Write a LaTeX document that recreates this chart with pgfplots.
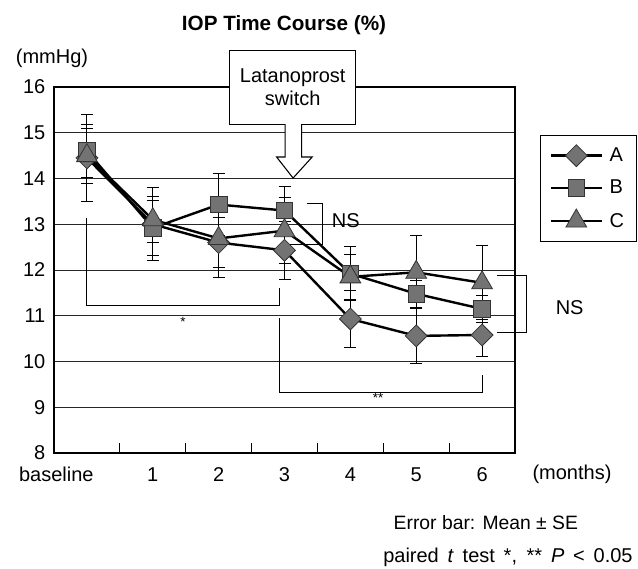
\documentclass[border=0pt]{standalone}
\usepackage{fontspec}
\setmainfont{Liberation Sans}
\usepackage{pgfplots}
\pgfplotsset{compat=1.18}

\newcommand{\fs}{\fontsize{15}{17}\selectfont}

\begin{document}
\begin{tikzpicture}
% canvas: 638 x 568 px, 1px = 0.75pt, y downward in the scope below
\useasboundingbox (0,0) rectangle (478.5pt,-426pt);

\begin{axis}[
    at={(40.5pt,-65.25pt)}, anchor=north west,
    scale only axis,
    width=345.75pt, height=274.5pt,
    xmin=-0.5, xmax=6.5,
    ymin=8, ymax=16,
    xtick={0,1,2,3,4,5,6},
    xticklabels={\hspace{-46pt}baseline,1,2,3,4,5,6},
    xtick pos=bottom,
    major tick length=0pt,
    extra x ticks={0.5,1.5,2.5,3.5,4.5,5.5},
    extra x tick labels={},
    extra x tick style={major tick length=7.5pt, tick style={line width=0.7pt, black}},
    ytick={8,9,...,16},
    ytick pos=left,
    ymajorgrids=true,
    grid style={line width=0.7pt, black!85},
    axis line style={line width=0.8pt},
    tick label style={font=\fs},
    /pgf/number format/assume math mode=true,
    xticklabel style={yshift=-7pt, text height=11pt, text depth=3pt},
    yticklabel style={xshift=-3pt},
    clip=false,
    legend style={at={(1.054,0.869)}, anchor=north west, font=\fs,
        draw=black, line width=0.7pt, row sep=8pt, inner sep=7pt,
        cells={anchor=west}},
    legend image code/.code={%
        \draw[mark repeat=2,mark phase=2,#1]
        plot coordinates {(0cm,0cm)(0.67cm,0cm)(1.34cm,0cm)};},
    error bars/error bar style={line width=0.7pt, black},
    error bars/error mark options={rotate=90, mark size=4.5pt, line width=0.7pt, black},
]

% A
\addplot[black, line width=1.8pt, mark=square*, mark size=5.8pt,
    mark options={rotate=45, fill=black!55, draw=black!80, line width=0.6pt},
    error bars/.cd, y dir=both, y explicit]
coordinates {
    (0,14.45) +- (0,0.95)
    (1,13.00) +- (0,0.80)
    (2,12.60) +- (0,0.55)
    (3,12.43) +- (0,0.63)
    (4,10.93) +- (0,0.63)
    (5,10.56) +- (0,0.61)
    (6,10.58) +- (0,0.46)
};
\addlegendentry{\hspace{3pt}A}

% B
\addplot[black, line width=1.8pt, mark=square*, mark size=6.2pt,
    mark options={fill=black!55, draw=black!80, line width=0.6pt},
    error bars/.cd, y dir=both, y explicit]
coordinates {
    (0,14.60) +- (0,0.58)
    (1,12.92) +- (0,0.60)
    (2,13.43) +- (0,0.68)
    (3,13.30) +- (0,0.53)
    (4,11.92) +- (0,0.59)
    (5,11.48) +- (0,0.30)
    (6,11.15) +- (0,0.30)
};
\addlegendentry{\hspace{3pt}B}

% C
\addplot[black, line width=1.8pt, mark=triangle*, mark size=9pt,
    mark options={fill=black!55, draw=black!80, line width=0.6pt},
    error bars/.cd, y dir=both, y explicit]
coordinates {
    (0,14.50) +- (0,0.60)
    (1,13.10) +- (0,0.50)
    (2,12.69) +- (0,0.86)
    (3,12.86) +- (0,0.72)
    (4,11.85) +- (0,0.50)
    (5,11.95) +- (0,0.80)
    (6,11.72) +- (0,0.81)
};
\addlegendentry{\hspace{3pt}C}

% significance brackets
\draw[line width=0.7pt] (axis cs:0,13.14) -- (axis cs:0,11.23) -- (axis cs:2.92,11.23) -- (axis cs:2.92,11.61);
\node[font=\fontsize{10}{12}\selectfont] at (axis cs:1.46,10.86) {*};

\draw[line width=0.7pt] (axis cs:3.34,13.46) -- (axis cs:3.57,13.46) -- (axis cs:3.57,12.55) -- (axis cs:3.08,12.55);
\node[font=\fs] at (axis cs:3.93,13.07) {NS};

\draw[line width=0.7pt] (axis cs:2.92,10.95) -- (axis cs:2.92,9.33) -- (axis cs:6.01,9.33) -- (axis cs:6.01,9.70);
\node[font=\fontsize{10}{12}\selectfont] at (axis cs:4.42,9.20) {**};

\draw[line width=0.7pt] (axis cs:6.23,11.89) -- (axis cs:6.68,11.89) -- (axis cs:6.68,10.64) -- (axis cs:6.23,10.64);
\node[font=\fs] at (axis cs:7.33,11.18) {NS};

% switch box and arrow
\draw[line width=0.8pt, fill=white] (axis cs:2.17,16.79) rectangle (axis cs:4.08,15.19);
\node[font=\fs, align=center] at (axis cs:3.125,15.99) {Latanoprost\\switch};
\draw[line width=0.8pt, fill=white]
    (axis cs:3.01,15.19) -- (axis cs:3.01,14.47) -- (axis cs:2.88,14.47) --
    (axis cs:3.13,14.01) -- (axis cs:3.42,14.47) -- (axis cs:3.26,14.47) --
    (axis cs:3.26,15.19);
\end{axis}

\begin{scope}[x=0.75pt, y=-0.75pt]
\node[font=\bfseries\fontsize{15.5}{18}\selectfont] at (284,25) {IOP Time Course (\%)};
\node[font=\fs] at (52,58) {(mmHg)};
\node[font=\fs] at (572,474) {(months)};
\node[font=\fontsize{14.5}{17}\selectfont, anchor=west] at (389,523) {Error bar: Mean ± SE};
\node[font=\fs, anchor=west, inner xsep=0pt] at (383,557)
    {\makebox[187pt][s]{paired \textit{t} test *, ** \textit{P} < 0.05}};
\end{scope}
\end{tikzpicture}
\end{document}
